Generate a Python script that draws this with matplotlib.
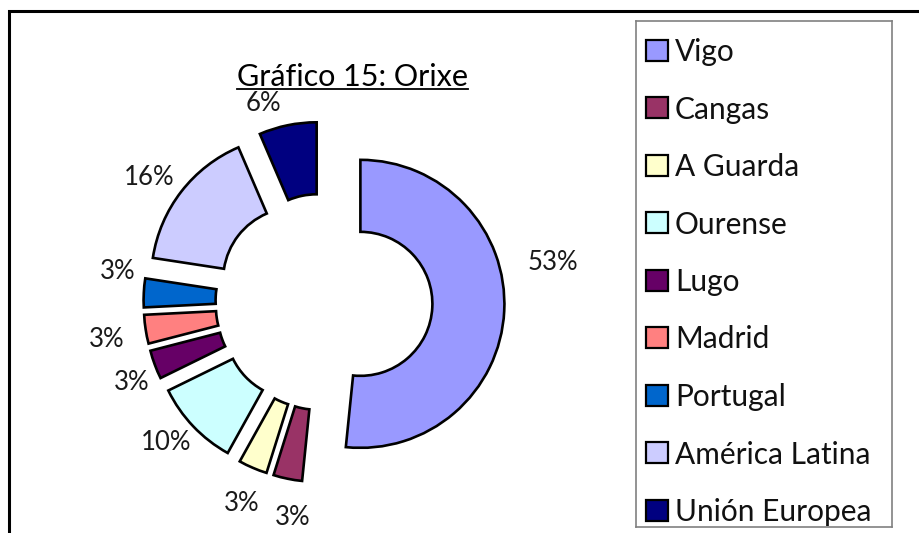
import matplotlib
matplotlib.use("Agg")
import matplotlib.pyplot as plt
from matplotlib.patches import Rectangle
from matplotlib.lines import Line2D
import numpy as np

plt.rcParams['font.family'] = ['Lato', 'DejaVu Sans']

# data (counts, labels as printed on the chart)
origins = ['Vigo', 'Cangas', 'A Guarda', 'Ourense', 'Lugo', 'Madrid',
           'Portugal', 'América Latina', 'Unión Europea']
counts = [16, 1, 1, 3, 1, 1, 1, 5, 2]
pct_labels = ['53%', '3%', '3%', '10%', '3%', '3%', '3%', '16%', '6%']
colors = ['#9999FF', '#993366', '#FFFFCC', '#CCFFFF', '#660066', '#FF8080',
          '#0066CC', '#CCCCFF', '#000080']
title = 'Gráfico 15: Orixe'

# label placement tweaks (degrees clockwise, radius in pie units)
label_nudge = [-12.8, -3.4, -1.0, 1.8, -2.3, -1.2, 5.4, -2.4, -5.4]
label_rad = [1.615, 1.51, 1.51, 1.47, 1.445, 1.53, 1.445, 1.49, 1.445]

W, H = 920, 533
fig = plt.figure(figsize=(W / 100, H / 100), dpi=100)

# pie axes: 144 px per unit, centre at (324, 302) px
R = 144
cx, cy = 324, 302
ax = fig.add_axes([(cx - 2 * R) / W, (H - cy - 1.6 * R) / H, 4 * R / W, 3.2 * R / H])
wedges, _ = ax.pie(counts, colors=colors, startangle=90, counterclock=False,
                   explode=[0.253] * len(counts), radius=1,
                   wedgeprops=dict(width=0.5, edgecolor='black', linewidth=1.9))
ax.set_xlim(-2, 2)
ax.set_ylim(-1.6, 1.6)
ax.set_aspect('equal')
ax.axis('off')

for w, lab, nd, rr in zip(wedges, pct_labels, label_nudge, label_rad):
    mid = np.deg2rad((w.theta1 + w.theta2) / 2 - nd)
    ax.text(rr * np.cos(mid), rr * np.sin(mid), lab, ha='center', va='center',
            fontsize=18.5, color='#1a1a1a', clip_on=False)

# outer frame
fig.add_artist(Rectangle((9 / W, -0.2), 1.2, 1.2 - 11 / H, transform=fig.transFigure,
                         fill=False, edgecolor='black', linewidth=2.2))

# title with underline
t = fig.text(353 / W, 1 - 86 / H, title, ha='center', va='baseline', fontsize=22)
fig.canvas.draw()
bb = t.get_window_extent().transformed(fig.transFigure.inverted())
uy = 1 - 88.5 / H
fig.add_artist(Line2D([bb.x0, bb.x1], [uy, uy],
                      transform=fig.transFigure, color='black', linewidth=1.3))

# legend box (clipped at the bottom like the original)
lx = fig.add_axes([636 / W, 6 / H, 256 / W, 506 / H])
lx.set_xlim(0, 256)
lx.set_ylim(506, 0)
lx.set_xticks([])
lx.set_yticks([])
for s in lx.spines.values():
    s.set_color('#808080')
    s.set_linewidth(1.2)
for i, (name, c) in enumerate(zip(origins, colors)):
    yc = 29 + i * 57.5
    lx.add_patch(Rectangle((10, yc - 10.5), 22, 21, facecolor=c, edgecolor='black',
                           linewidth=1.6))
    lx.text(39, yc + 11, name, ha='left', va='baseline', fontsize=21.5,
            color='#111111', clip_on=True)

fig.savefig('out.png', dpi=100)
